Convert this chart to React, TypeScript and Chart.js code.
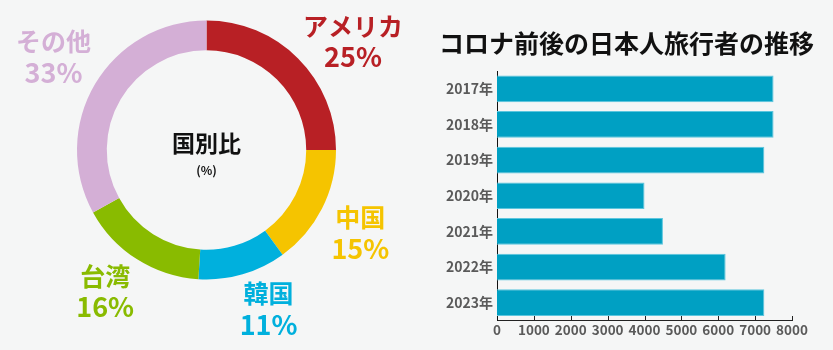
import React, { useEffect, useRef } from 'react';
import { Chart, registerables } from 'chart.js';

Chart.register(...registerables);

const FONT = '"Noto Sans CJK JP", "Noto Sans", sans-serif';

// Doughnut data
const countryNames = ['アメリカ', '中国', '韓国', '台湾', 'その他'];
const countryShares = [25, 15, 11, 16, 33];
const countryColors = ['#b82025', '#f5c400', '#00b0dd', '#89bb00', '#d4afd6'];

// Bar data
const chartTitle = 'コロナ前後の日本人旅行者の推移';
const years = ['2017年', '2018年', '2019年', '2020年', '2021年', '2022年', '2023年'];
const travelers = [7500, 7500, 7250, 4000, 4500, 6200, 7250];
const xMin = 0;
const xMax = 8000;
const xStep = 1000;

const donutLabels = {
  id: 'donutLabels',
  afterDraw(chart: any, _args: any, opts: any) {
    const ctx = chart.ctx;
    const meta = chart.getDatasetMeta(0);
    meta.data.forEach((arc: any, i: number) => {
      const p = arc.getProps(['x', 'y', 'startAngle', 'endAngle', 'outerRadius'], true);
      const mid = (p.startAngle + p.endAngle) / 2;
      const r = p.outerRadius + opts.distance;
      const n = (opts.nudges && opts.nudges[i]) || [0, 0];
      const cx = p.x + Math.cos(mid) * r + n[0];
      const cy = p.y + Math.sin(mid) * r + n[1];
      ctx.save();
      ctx.fillStyle = countryColors[i];
      ctx.textAlign = 'center';
      ctx.textBaseline = 'middle';
      ctx.font = `bold 25px ${FONT}`;
      ctx.fillText(countryNames[i], cx, cy - 15.5);
      ctx.font = `bold 27px ${FONT}`;
      ctx.fillText(`${countryShares[i]}%`, cx, cy + 15.5);
      ctx.restore();
    });
  },
};

const donutCenter = {
  id: 'donutCenter',
  afterDraw(chart: any) {
    const { ctx, chartArea } = chart;
    const cx = (chartArea.left + chartArea.right) / 2;
    const cy = (chartArea.top + chartArea.bottom) / 2;
    ctx.save();
    ctx.fillStyle = '#111';
    ctx.textAlign = 'center';
    ctx.textBaseline = 'middle';
    ctx.font = `bold 23px ${FONT}`;
    ctx.fillText('国別比', cx, cy - 6.5);
    ctx.font = `bold 12px ${FONT}`;
    ctx.fillText('(%)', cx, cy + 20);
    ctx.restore();
  },
};

const innerTicks = {
  id: 'innerTicks',
  afterDraw(chart: any) {
    const { ctx } = chart;
    const xs = chart.scales.x;
    const bottom = chart.chartArea.bottom;
    ctx.save();
    ctx.strokeStyle = '#222';
    ctx.lineWidth = 1;
    xs.ticks.forEach((t: any) => {
      if (t.value === xMin) return;
      const x = Math.round(xs.getPixelForValue(t.value)) + 0.5;
      ctx.beginPath();
      ctx.moveTo(x, bottom - 4.5);
      ctx.lineTo(x, bottom);
      ctx.stroke();
    });
    ctx.restore();
  },
};

function DonutChart() {
  const ref = useRef<HTMLCanvasElement>(null);
  useEffect(() => {
    if (!ref.current) return;
    const chart = new Chart(ref.current, {
      type: 'doughnut',
      data: {
        labels: countryNames,
        datasets: [
          {
            data: countryShares,
            backgroundColor: countryColors,
            borderWidth: 0,
          },
        ],
      },
      options: {
        responsive: false,
        animation: false,
        cutout: '77%',
        layout: { padding: { left: 77, right: 84, top: 20.5, bottom: 70.5 } },
        plugins: {
          legend: { display: false },
          tooltip: { enabled: false },
          donutLabels: {
            distance: 46.5,
            nudges: [
              [22, 16],
              [-3, 3],
              [13, -10],
              [-7, -7],
              [-1.5, -3.5],
            ],
          },
        } as any,
      },
      plugins: [donutLabels, donutCenter],
    });
    return () => chart.destroy();
  }, []);
  return (
    <canvas
      ref={ref}
      width={420}
      height={350}
      style={{ position: 'absolute', left: 0, top: 0, width: 420, height: 350 }}
    />
  );
}

function BarChart() {
  const ref = useRef<HTMLCanvasElement>(null);
  useEffect(() => {
    if (!ref.current) return;
    const chart = new Chart(ref.current, {
      type: 'bar',
      data: {
        labels: years,
        datasets: [
          {
            data: travelers,
            backgroundColor: '#00a0c3',
            borderColor: '#5cc6de',
            borderWidth: { top: 1, right: 1, bottom: 1, left: 0 },
            borderSkipped: false,
            categoryPercentage: 1,
            barPercentage: 0.75,
          },
        ],
      },
      options: {
        responsive: false,
        animation: false,
        indexAxis: 'y',
        layout: { padding: 0 },
        plugins: {
          legend: { display: false },
          tooltip: { enabled: false },
          title: {
            display: true,
            text: chartTitle,
            color: '#111',
            font: { family: FONT, size: 25, weight: 'bold' },
            padding: { top: 28.5, bottom: 12.5 },
          },
        },
        scales: {
          x: {
            type: 'linear',
            min: xMin,
            max: xMax,
            grid: { display: false, drawTicks: false },
            border: { display: true, color: '#222', width: 1 },
            ticks: {
              stepSize: xStep,
              padding: 1.5,
              maxRotation: 0,
              minRotation: 0,
              autoSkip: false,
              color: '#5a5a5a',
              font: { family: FONT, size: 13.5, weight: 'bold' },
              callback: (v: any) => String(v),
            },
            afterFit: (s: any) => {
              s.height = 29.5;
            },
          },
          y: {
            type: 'category',
            grid: { display: false, drawTicks: false },
            border: { display: true, color: '#111', width: 1 },
            ticks: {
              padding: 4,
              color: '#5a5a5a',
              font: { family: FONT, size: 14, weight: 'bold' },
            },
            afterFit: (s: any) => {
              s.width = 77;
            },
          },
          yRight: {
            type: 'category',
            labels: years,
            position: 'right',
            grid: { display: false, drawTicks: false },
            border: { display: false },
            ticks: { display: false },
            afterFit: (s: any) => {
              s.width = 41;
            },
          },
        },
      } as any,
      plugins: [innerTicks],
    });
    return () => chart.destroy();
  }, []);
  return (
    <canvas
      ref={ref}
      width={413}
      height={350}
      style={{ position: 'absolute', left: 420, top: 0, width: 413, height: 350 }}
    />
  );
}

export default function App() {
  return (
    <div
      style={{
        position: 'absolute',
        left: 0,
        top: 0,
        width: 833,
        height: 350,
        background: '#f5f6f6',
        overflow: 'hidden',
      }}
    >
      <DonutChart />
      <BarChart />
    </div>
  );
}
